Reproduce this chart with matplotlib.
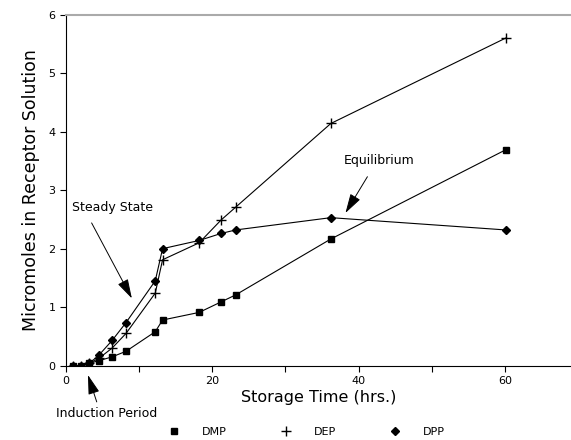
import matplotlib
matplotlib.use("Agg")
import matplotlib.pyplot as plt

time_hrs = [1, 2, 3.2, 4.5, 6.3, 8.2, 12.2, 13.2, 18.2, 21.2, 23.2, 36.2, 60.1]
dmp = [0.0, 0.0, 0.04, 0.085, 0.15, 0.245, 0.58, 0.78, 0.91, 1.09, 1.21, 2.165, 3.69]
dep = [0.0, 0.0, 0.04, 0.125, 0.30, 0.55, 1.24, 1.81, 2.10, 2.49, 2.71, 4.14, 5.60]
dpp = [0.0, 0.0, 0.04, 0.18, 0.43, 0.735, 1.45, 2.00, 2.14, 2.26, 2.32, 2.53, 2.32]
series_names = ["DMP", "DEP", "DPP"]

fig = plt.figure(figsize=(5.71, 4.40), dpi=100)
ax = fig.add_axes([0.1156, 0.169, 0.884, 0.7976])

lw = 0.8
ax.plot(time_hrs, dmp, color="black", lw=lw, marker="s", ms=4.8, label=series_names[0])
ax.plot(time_hrs, dep, color="black", lw=lw, marker="+", ms=6.5, mew=1.0, label=series_names[1])
ax.plot(time_hrs, dpp, color="black", lw=lw, marker="D", ms=4, label=series_names[2])

ax.set_xlim(0, 69)
ax.set_ylim(0, 6)
ax.set_xticks([0, 20, 40, 60])
ax.set_xticks([10, 30, 50], minor=True)
ax.set_yticks([0, 1, 2, 3, 4, 5, 6])
ax.tick_params(axis="both", which="both", direction="out", labelsize=8, length=4, width=0.8)
ax.tick_params(axis="x", which="minor", length=4)
ax.spines["right"].set_visible(False)
ax.spines["top"].set_color("#aaaaaa")
ax.spines["top"].set_linewidth(1.5)

ax.set_xlabel("Storage Time (hrs.)", fontsize=11.5, labelpad=3)
ax.set_ylabel("Micromoles in Receptor Solution", fontsize=12.5, labelpad=6)

arrowprops = dict(arrowstyle="-|>,head_length=1.2,head_width=0.35", color="black", lw=0.7, shrinkA=0, shrinkB=0)
ax.annotate("", xy=(9.0, 1.15), xytext=(3.5, 2.44), arrowprops=arrowprops)
ax.text(0.8, 2.71, "Steady State", fontsize=9, ha="left", va="center")
ax.annotate("", xy=(38.2, 2.61), xytext=(41.2, 3.23), arrowprops=arrowprops)
ax.text(42.8, 3.5, "Equilibrium", fontsize=9, ha="center", va="center")
ax.annotate("", xy=(3.0, -0.16), xytext=(4.2, -0.62), arrowprops=arrowprops,
            annotation_clip=False)
ax.text(5.6, -0.81, "Induction Period", fontsize=9, ha="center", va="center", clip_on=False)

leg = fig.legend(loc="center", bbox_to_anchor=(0.537, 0.018), ncol=3, frameon=False,
                 fontsize=8, handlelength=1.0, columnspacing=4.8, handletextpad=2.0)
for h in leg.legend_handles:
    h.set_linestyle("none")

fig.savefig("out.png", dpi=100)
